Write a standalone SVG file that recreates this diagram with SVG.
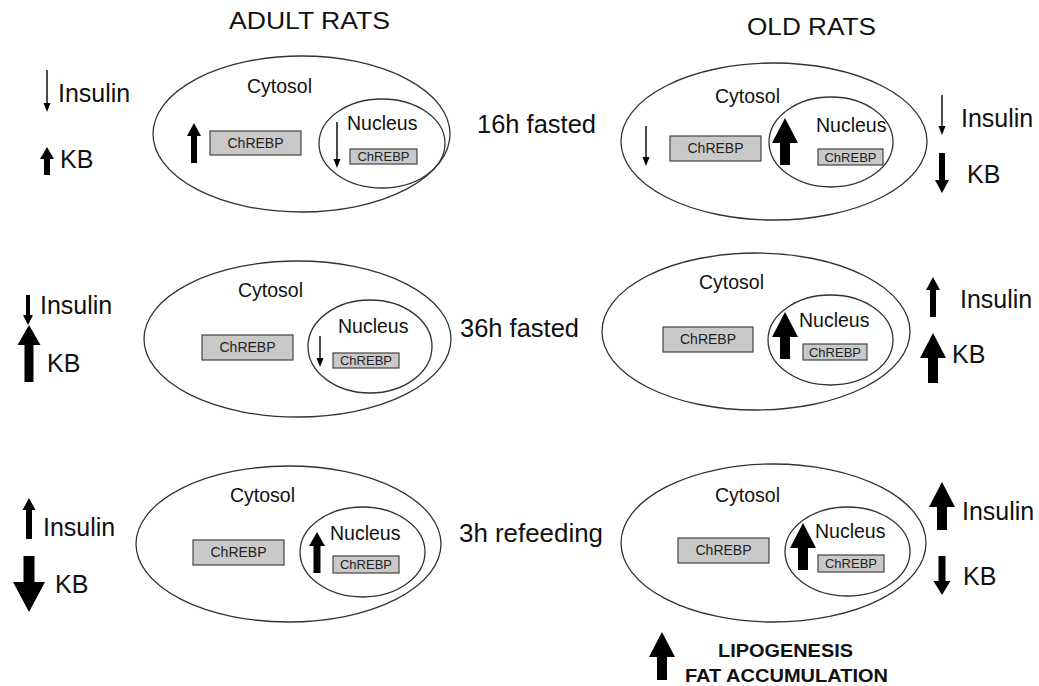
<svg xmlns="http://www.w3.org/2000/svg" width="1039" height="686" viewBox="0 0 1039 686">
<style>
text{font-family:"Liberation Sans",Arial,sans-serif;fill:#111}
.h{font-size:24px}
.lbl{font-size:25px}
.cond{font-size:25.5px}
.cyt{font-size:19.5px}
.nuc{font-size:19.5px}
.bt{font-size:14px;text-anchor:middle;fill:#222}
.st{font-size:13px;text-anchor:middle;fill:#222}
.cell{fill:none;stroke:#333;stroke-width:1.3}
.box{fill:#c9c9c9;stroke:#444;stroke-width:1.2}
.arr{fill:#000}
.thin{stroke:#000;stroke-width:1.4;fill:none}
.bold{font-size:18.5px;font-weight:bold}
</style>
<rect width="1039" height="686" fill="#fff"/>
<text class="h" x="229" y="29" textLength="161" lengthAdjust="spacingAndGlyphs">ADULT RATS</text>
<text class="h" x="747" y="35" textLength="129" lengthAdjust="spacingAndGlyphs">OLD RATS</text>

<text class="cond" x="477" y="133" textLength="119" lengthAdjust="spacingAndGlyphs">16h fasted</text>
<text class="cond" x="460" y="337" textLength="119" lengthAdjust="spacingAndGlyphs">36h fasted</text>
<text class="cond" x="459" y="542" textLength="144" lengthAdjust="spacingAndGlyphs">3h refeeding</text>

<g id="adult-16h">
<ellipse class="cell" cx="301.5" cy="134" rx="148.5" ry="78"/>
<text class="cyt" x="247" y="93">Cytosol</text>
<rect class="box" x="210" y="131" width="91" height="24"/>
<text class="bt" x="255.5" y="148">ChREBP</text>
<ellipse class="cell" cx="382" cy="143.5" rx="63" ry="44.5"/>
<text class="nuc" x="347" y="130">Nucleus</text>
<rect class="box" x="350" y="149" width="67" height="15"/>
<text class="st" x="383.5" y="161">ChREBP</text>
</g>
<g id="old-16h">
<ellipse class="cell" cx="774" cy="141.5" rx="153" ry="78.5"/>
<text class="cyt" x="715" y="103">Cytosol</text>
<rect class="box" x="670" y="136" width="91" height="25"/>
<text class="bt" x="715.5" y="153">ChREBP</text>
<ellipse class="cell" cx="831" cy="142" rx="62" ry="45"/>
<text class="nuc" x="816" y="132">Nucleus</text>
<rect class="box" x="818" y="149" width="65" height="16"/>
<text class="st" x="850.5" y="162">ChREBP</text>
</g>
<g id="adult-36h">
<ellipse class="cell" cx="297.5" cy="339" rx="153.5" ry="78"/>
<text class="cyt" x="238" y="297">Cytosol</text>
<rect class="box" x="202" y="335" width="91" height="25"/>
<text class="bt" x="247.5" y="352">ChREBP</text>
<ellipse class="cell" cx="370" cy="346.5" rx="62" ry="46.5"/>
<text class="nuc" x="338" y="333">Nucleus</text>
<rect class="box" x="333" y="353" width="66" height="15"/>
<text class="st" x="366" y="365">ChREBP</text>
</g>
<g id="old-36h">
<ellipse class="cell" cx="756" cy="331.5" rx="154" ry="78.5"/>
<text class="cyt" x="699" y="289">Cytosol</text>
<rect class="box" x="663" y="327" width="90" height="25"/>
<text class="bt" x="708" y="344">ChREBP</text>
<ellipse class="cell" cx="830.5" cy="340" rx="62.5" ry="45"/>
<text class="nuc" x="799" y="327">Nucleus</text>
<rect class="box" x="803" y="344" width="64" height="16"/>
<text class="st" x="835" y="357">ChREBP</text>
</g>
<g id="adult-3h">
<ellipse class="cell" cx="288.5" cy="544" rx="152.5" ry="78"/>
<text class="cyt" x="230" y="502">Cytosol</text>
<rect class="box" x="193" y="540" width="91" height="25"/>
<text class="bt" x="238.5" y="557">ChREBP</text>
<ellipse class="cell" cx="362.5" cy="552" rx="62.5" ry="45"/>
<text class="nuc" x="330" y="540">Nucleus</text>
<rect class="box" x="333" y="556" width="66" height="17"/>
<text class="st" x="366" y="569">ChREBP</text>
</g>
<g id="old-3h">
<ellipse class="cell" cx="773.5" cy="543" rx="152.5" ry="79"/>
<text class="cyt" x="715" y="502">Cytosol</text>
<rect class="box" x="678" y="538" width="91" height="25"/>
<text class="bt" x="723.5" y="555">ChREBP</text>
<ellipse class="cell" cx="847.5" cy="551.5" rx="62.5" ry="44.5"/>
<text class="nuc" x="815" y="538">Nucleus</text>
<rect class="box" x="818" y="555" width="66" height="17"/>
<text class="st" x="851" y="568">ChREBP</text>
</g>

<g id="labels">
<text class="lbl" x="58" y="102">Insulin</text>
<text class="lbl" x="60" y="168">KB</text>
<text class="lbl" x="961" y="127">Insulin</text>
<text class="lbl" x="967" y="183">KB</text>
<text class="lbl" x="40" y="314">Insulin</text>
<text class="lbl" x="47" y="372">KB</text>
<text class="lbl" x="960" y="308">Insulin</text>
<text class="lbl" x="952" y="363">KB</text>
<text class="lbl" x="43" y="536">Insulin</text>
<text class="lbl" x="55" y="593">KB</text>
<text class="lbl" x="962" y="520">Insulin</text>
<text class="lbl" x="963" y="585">KB</text>
<text class="bold" x="718" y="657" textLength="135" lengthAdjust="spacingAndGlyphs">LIPOGENESIS</text>
<text class="bold" x="685" y="682" textLength="203" lengthAdjust="spacingAndGlyphs">FAT ACCUMULATION</text>
</g>

<g id="arrows">
<line class="thin" x1="47" y1="70" x2="47" y2="105"/><polygon class="arr" points="43.5,103 50.5,103 47,112"/>
<line class="thin" x1="337" y1="122" x2="337" y2="161"/><polygon class="arr" points="333.5,159 340.5,159 337,168"/>
<line class="thin" x1="646" y1="126" x2="646" y2="159"/><polygon class="arr" points="642.5,157 649.5,157 646,166"/>
<line class="thin" x1="942" y1="95" x2="942" y2="128"/><polygon class="arr" points="938.5,126 945.5,126 942,135"/>
<line class="thin" x1="320" y1="336" x2="320" y2="360"/><polygon class="arr" points="316.5,358 323.5,358 320,367"/>

<polygon class="arr" points="47,147 54,159 50,159 50,175 44,175 44,159 40,159"/>
<polygon class="arr" points="194,123 201,136 197,136 197,163 191,163 191,136 187,136"/>
<polygon class="arr" points="785,118 798,143 790,143 790,165 780,165 780,143 772,143"/>
<polygon class="arr" points="939,153 945,153 945,180 949,180 942,193 935,180 939,180"/>
<polygon class="arr" points="26,295 30,295 30,315 33,315 28,325 23,315 26,315"/>
<polygon class="arr" points="29,325 40.5,345 33.5,345 33.5,382 24.5,382 24.5,345 17.5,345"/>
<polygon class="arr" points="785,312 798,337 790,337 790,359 780,359 780,337 772,337"/>
<polygon class="arr" points="933,277 940,290 936,290 936,317 930,317 930,290 926,290"/>
<polygon class="arr" points="933,333 946,358 938,358 938,383 928,383 928,358 920,358"/>
<polygon class="arr" points="29,498 35.5,510 32,510 32,539 26,539 26,510 22.5,510"/>
<polygon class="arr" points="23.5,556 34.5,556 34.5,582 45,582 29,612 13,582 23.5,582"/>
<polygon class="arr" points="317,532 325,546 320.5,546 320.5,573 313.5,573 313.5,546 309,546"/>
<polygon class="arr" points="803,523 816,548 808,548 808,570 798,570 798,548 790,548"/>
<polygon class="arr" points="942,482 955,507 947,507 947,530 937,530 937,507 929,507"/>
<polygon class="arr" points="938.5,556 945.5,556 945.5,581 950.5,581 942,595 933.5,581 938.5,581"/>
<polygon class="arr" points="662,632 675,657 667,657 667,680 657,680 657,657 649,657"/>
</g>
</svg>
